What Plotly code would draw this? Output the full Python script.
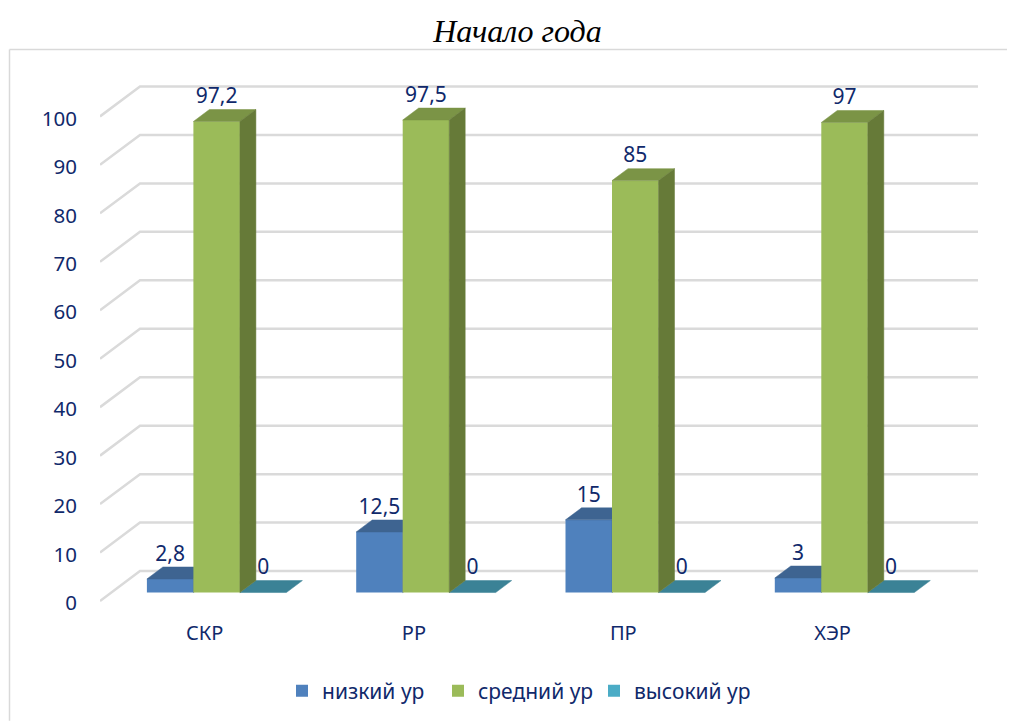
import plotly.graph_objects as go

categories = ["СКР", "РР", "ПР", "ХЭР"]
series_names = ["низкий ур", "средний ур", "высокий ур"]
low = [2.8, 12.5, 15, 3]
mid = [97.2, 97.5, 85, 97]
high = [0, 0, 0, 0]
y_ticks = list(range(0, 101, 10))

NAVY = "#10296B"
GRID = "#DADADA"
FONT = "Noto Sans"
OFF = 8                # page margin around the figure
PXX, PXY = 209.3, 4.855
L, R, T, B = 100 - OFF, 978 - OFF, 70 - OFF, 612 - OFF
W, H = 1015 - OFF, 722 - OFF
LABEL_SHIFT = -2 / PXY  # moves the tick labels down relative to the gridline ends
x0 = -0.5
x1 = x0 + (R - L) / PXX
y0 = (602 - OFF - B) / PXY - LABEL_SHIFT
y1 = (602 - OFF - T) / PXY - LABEL_SHIFT
SHIFT_X = 12 / PXX     # bars plane vs axis plane
DX, DY = 16 / PXX, 12 / PXY   # bar depth
BAR_W = 46.5 / PXX
WALL_DX, WALL_DY = 40 / PXX, 30 / PXY

fig = go.Figure()

# gridlines
gx, gy = [], []
for v in y_ticks:
    gx += [x0, x0 + WALL_DX, x1, None]
    gy += [v - LABEL_SHIFT, v - LABEL_SHIFT + WALL_DY, v - LABEL_SHIFT + WALL_DY, None]
fig.add_trace(go.Scatter(x=gx, y=gy, mode="lines", line=dict(color=GRID, width=2.5),
                         hoverinfo="skip", showlegend=False, yaxis="y"))


def poly(xs, ys, color, ax):
    return go.Scatter(x=xs, y=ys, mode="lines", fill="toself", fillcolor=color,
                      line=dict(color=color, width=0.5), hoverinfo="skip",
                      showlegend=False, yaxis=ax)


def draw(values, k, name, rank, front, top, side, ax):
    lefts = [i + SHIFT_X + (k - 1.5) * BAR_W for i in range(len(values))]
    for xl, v in zip(lefts, values):
        fig.add_trace(poly([xl, xl + BAR_W, xl + BAR_W + DX, xl + DX, xl],
                           [v, v, v + DY, v + DY, v], top, ax))
        if v > 0:
            fig.add_trace(poly([xl + BAR_W, xl + BAR_W + DX, xl + BAR_W + DX, xl + BAR_W, xl + BAR_W],
                               [0, DY, v + DY, v, 0], side, ax))
    fig.add_trace(go.Bar(x=[i + SHIFT_X for i in range(len(values))], y=values, name=name,
                         width=BAR_W, offset=(k - 1.5) * BAR_W, legendrank=rank,
                         marker=dict(color=front, line=dict(width=0)),
                         yaxis=ax, hoverinfo="skip"))


draw(low, 0, series_names[0], 1, "#4F81BD", "#3E6491", "#3E6491", "y2")
draw(high, 2, series_names[2], 3, "#4BACC6", "#3B8296", "#3B8296", "y3")
draw(mid, 1, series_names[1], 2, "#9BBB59", "#7B9446", "#667A38", "y4")

# data labels
lx, ly, lt = [], [], []
for k, vals in enumerate([low, mid, high]):
    for i, v in enumerate(vals):
        lx.append(i + SHIFT_X + (k - 1) * BAR_W)
        ly.append(v + DY + 11.5 / PXY)
        lt.append(str(v).replace(".", ","))
fig.add_trace(go.Scatter(x=lx, y=ly, text=lt, mode="text", textposition="middle center",
                         textfont=dict(family=FONT, size=21, color=NAVY),
                         hoverinfo="skip", showlegend=False, yaxis="y4"))

over = dict(range=[(593.5 - OFF - B) / PXY, (593.5 - OFF - T) / PXY], visible=False,
            overlaying="y", fixedrange=True)
px_x = lambda p: (p - OFF - L) / (R - L)
px_y = lambda p: (B - (p - OFF)) / (B - T)
fig.update_layout(
    width=W, height=H, autosize=False,
    margin=dict(l=L, r=W - R, t=T, b=H - B, pad=0),
    paper_bgcolor="white", plot_bgcolor="rgba(0,0,0,0)",
    showlegend=True,
    title=dict(text="<i>Начало года</i>", x=(517.5 - OFF) / W, xanchor="center",
               y=1 - (31 - OFF) / H, yanchor="middle",
               font=dict(family="Liberation Serif", size=32, color="black")),
    xaxis=dict(range=[x0, x1], tickvals=list(range(len(categories))), ticktext=categories,
               showgrid=False, zeroline=False, showline=False, ticks="", ticklabelstandoff=8,
               tickfont=dict(family=FONT, size=20, color=NAVY), fixedrange=True),
    yaxis=dict(range=[y0, y1], tickvals=y_ticks, showgrid=False, zeroline=False, showline=False,
               ticks="", ticklabelstandoff=22,
               tickfont=dict(family=FONT, size=20.5, color=NAVY), fixedrange=True),
    yaxis2=over, yaxis3=over, yaxis4=over,
    legend=dict(orientation="h", x=px_x(516), xanchor="center", y=px_y(691),
                yanchor="middle", font=dict(family=FONT, size=21, color=NAVY),
                entrywidth=111, entrywidthmode="pixels", traceorder="normal"),
    shapes=[
        dict(type="line", xref="paper", yref="paper", x0=px_x(9.5), x1=px_x(9.5), y0=px_y(722), y1=px_y(49.5),
             line=dict(color="#D9D9D9", width=1.5), layer="below"),
        dict(type="line", xref="paper", yref="paper", x0=px_x(9.5), x1=px_x(1015), y0=px_y(49.5), y1=px_y(49.5),
             line=dict(color="#D9D9D9", width=1.5), layer="below"),
    ],
)
fig.write_html("out.html")
